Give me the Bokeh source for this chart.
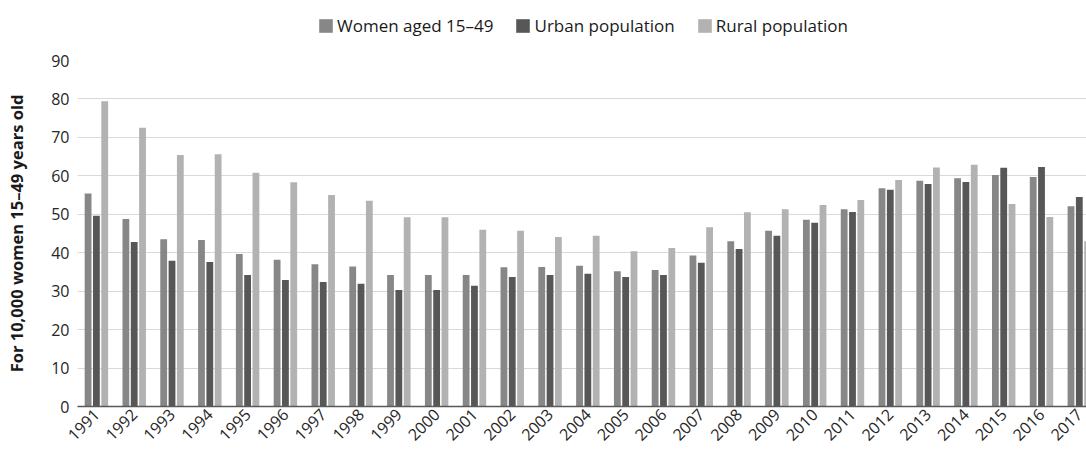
import math
from bokeh.plotting import figure
from bokeh.layouts import column
from bokeh.models import Range1d, FixedTicker, Legend, LegendItem, ColumnDataSource
from bokeh.transform import dodge
from bokeh.embed import file_html
from bokeh.resources import INLINE

years = list(range(1991, 2018))
women = [55.4, 48.8, 43.5, 43.3, 39.7, 38.2, 37.0, 36.4, 34.2, 34.2, 34.2, 36.2, 36.3, 36.6,
         35.2, 35.5, 39.3, 43.0, 45.7, 48.6, 51.3, 56.8, 58.7, 59.4, 60.2, 59.7, 52.1]
urban = [49.6, 42.8, 37.9, 37.6, 34.2, 32.9, 32.4, 31.9, 30.3, 30.3, 31.4, 33.7, 34.2, 34.5,
         33.7, 34.2, 37.4, 41.0, 44.4, 47.8, 50.6, 56.4, 57.9, 58.4, 62.1, 62.3, 54.5]
rural = [79.4, 72.5, 65.4, 65.6, 60.8, 58.3, 55.0, 53.5, 49.2, 49.2, 46.0, 45.7, 44.1, 44.4,
         40.4, 41.2, 46.6, 50.5, 51.3, 52.4, 53.7, 58.9, 62.2, 62.9, 52.7, 49.3, 43.0]
series_names = ["Women aged 15\u201349", "Urban population", "Rural population"]
y_ticks = [0, 10, 20, 30, 40, 50, 60, 70, 80, 90]
y_title = "For 10,000 women 15\u201349 years old"

FONT = "Open Sans"
colors = ["#878787", "#575757", "#b2b2b2"]
cols = ["women", "urban", "rural"]
offsets = [-0.22, 0.0, 0.22]

src = ColumnDataSource(dict(year=years, women=women, urban=urban, rural=rural))

# ---- legend strip (top) ----
top = figure(width=1086, height=50, output_backend="svg", toolbar_location=None,
             x_axis_location=None, y_axis_location=None,
             x_range=Range1d(0, 1), y_range=Range1d(0, 1),
             min_border_left=0, min_border_right=0, min_border_top=0, min_border_bottom=0)
top.outline_line_color = None
top.xgrid.grid_line_color = None
top.ygrid.grid_line_color = None
hidden = ColumnDataSource(dict(x=[-5.0], t=[-5.0]))
leg_items = []
for n, col in zip(series_names, colors):
    r = top.vbar(x="x", top="t", width=0.1, source=hidden, fill_color=col, line_color=None)
    leg_items.append(LegendItem(label=n, renderers=[r]))
legend = Legend(items=leg_items, orientation="horizontal", location=(240, 13),
                border_line_color=None, background_fill_alpha=0, padding=0, margin=0,
                spacing=21, label_standoff=3, glyph_width=17, glyph_height=17,
                label_text_font=FONT, label_text_font_size="17px", label_text_color="#1a1a1a")
top.add_layout(legend, "center")

# ---- main chart ----
p = figure(width=1086, height=399, output_backend="svg", toolbar_location=None,
           x_range=Range1d(1990.5, 2017.19), y_range=Range1d(0, 90),
           min_border_left=77, min_border_right=0, min_border_top=10, min_border_bottom=43)
p.outline_line_color = None
p.background_fill_color = "white"

for c, off, col in zip(cols, offsets, colors):
    p.vbar(x=dodge("year", off, range=p.x_range), top=c, width=0.18, source=src,
           fill_color=col, line_color=None)

p.xgrid.grid_line_color = None
p.ygrid.grid_line_color = "#d9d9d9"
p.ygrid.grid_line_width = 1
p.ygrid.ticker = FixedTicker(ticks=y_ticks)

p.yaxis.ticker = FixedTicker(ticks=y_ticks)
p.yaxis.axis_line_color = None
p.yaxis.major_tick_line_color = None
p.yaxis.minor_tick_line_color = None
p.yaxis.major_tick_out = 0
p.yaxis.major_tick_in = 0
p.yaxis.major_label_standoff = 8
p.yaxis.major_label_text_font = FONT
p.yaxis.major_label_text_font_size = "16px"
p.yaxis.major_label_text_color = "#262626"
p.yaxis.axis_label = y_title
p.yaxis.axis_label_text_font = FONT
p.yaxis.axis_label_text_font_style = "bold"
p.yaxis.axis_label_text_font_size = "16.5px"
p.yaxis.axis_label_text_color = "#1a1a1a"
p.yaxis.axis_label_standoff = 20

p.xaxis.ticker = FixedTicker(ticks=years)
p.xaxis.major_label_overrides = {y: str(y) for y in years}
p.xaxis.axis_line_color = "#595959"
p.xaxis.axis_line_width = 1.5
p.xaxis.major_tick_line_color = None
p.xaxis.minor_tick_line_color = None
p.xaxis.major_tick_out = 0
p.xaxis.major_tick_in = 0
p.xaxis.major_label_orientation = math.pi / 4
p.xaxis.major_label_standoff = 5
p.xaxis.major_label_text_font = FONT
p.xaxis.major_label_text_font_size = "16px"
p.xaxis.major_label_text_color = "#262626"

layout = column(top, p, spacing=0)
open("out.html", "w").write(file_html(layout, INLINE))
